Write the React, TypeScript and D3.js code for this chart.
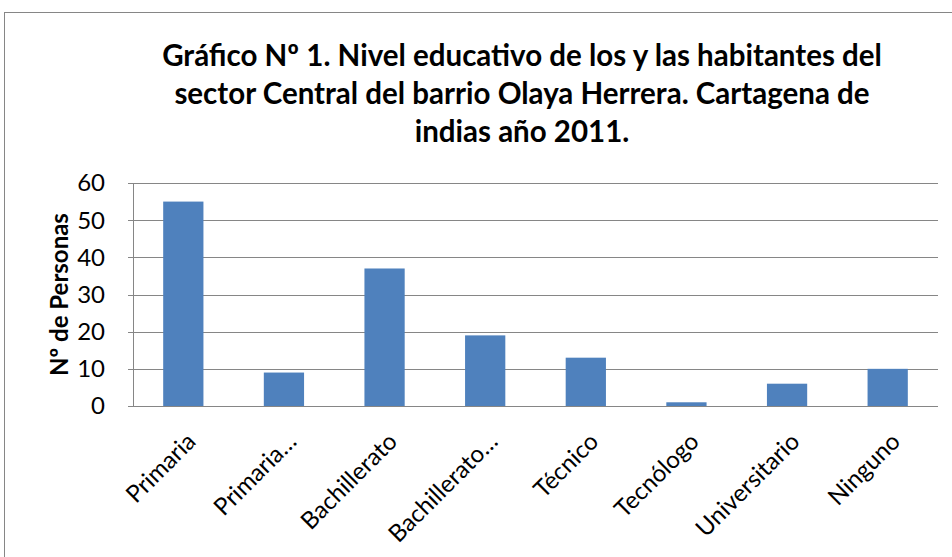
import React from "react";
import * as d3 from "d3";

const categories = ["Primaria", "Primaria…", "Bachillerato", "Bachillerato…", "Técnico", "Tecnólogo", "Universitario", "Ninguno"];
const values = [55, 9, 37, 19, 13, 1, 6, 10];
const yTicks = [0, 10, 20, 30, 40, 50, 60];
const titleLines = [
  "Gráfico Nº 1. Nivel educativo de los y las habitantes del",
  "sector Central del barrio Olaya Herrera. Cartagena de",
  "indias año 2011.",
];
const yLabel = "Nº de Personas";

export default function App() {
  const W = 952, H = 557;
  const left = 133, right = 938, top = 183, bottom = 406;
  const x = d3.scaleBand<string>().domain(categories).range([left, right]).paddingInner(0.6).paddingOuter(0.3);
  const y = d3.scaleLinear().domain([0, 60]).range([bottom, top]);
  const font = "Lato, 'Open Sans', sans-serif";
  const grid = "#868686";
  return (
    <svg width={W} height={H} style={{ position: "absolute", left: 0, top: 0 }}>
      <rect x={0} y={0} width={W} height={H} fill="#fff" />
      <rect x={4.5} y={12.5} width={W + 10} height={H + 10} fill="none" stroke="#868686" strokeWidth={1} />
      {titleLines.map((t, i) => (
        <text key={i} x={522} y={66 + i * 38} textAnchor="middle" fontFamily={font} fontWeight="bold" fontSize={29.5} fill="#000">
          {t}
        </text>
      ))}
      {yTicks.map((t) => (
        <g key={t}>
          <line x1={left - 5} x2={right} y1={Math.round(y(t)) + 0.5} y2={Math.round(y(t)) + 0.5} stroke={grid} strokeWidth={1} />
          <text x={105} y={y(t)} dy="0.35em" textAnchor="end" fontFamily={font} fontSize={24} fill="#000">
            {t}
          </text>
        </g>
      ))}
      <line x1={left + 0.5} x2={left + 0.5} y1={top} y2={bottom} stroke={grid} />
      {categories.map((c, i) => (
        <rect key={c} x={x(c)} y={y(values[i])} width={x.bandwidth()} height={bottom - y(values[i])} fill="#4F81BD" />
      ))}
      <line x1={left} x2={right} y1={bottom + 0.5} y2={bottom + 0.5} stroke={grid} />
      {categories.map((c) => {
        const cx = (x(c) as number) + x.bandwidth() / 2 + 14;
        const cy = 443;
        return (
          <text key={c} x={cx} y={cy} transform={`rotate(-45 ${cx} ${cy})`} textAnchor="end" fontFamily={font} fontSize={24} fill="#000">
            {c}
          </text>
        );
      })}
      <text transform={`translate(68 ${(top + bottom) / 2}) rotate(-90)`} textAnchor="middle" fontFamily={font} fontWeight="bold" fontSize={24} fill="#000">
        {yLabel}
      </text>
    </svg>
  );
}
